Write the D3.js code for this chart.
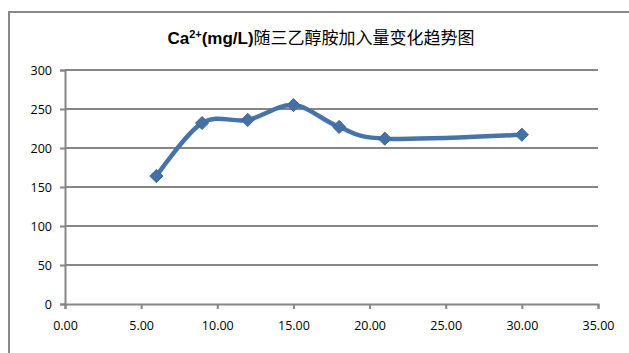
<!DOCTYPE html>
<html><head><meta charset="utf-8">
<script src="https://cdn.jsdelivr.net/npm/d3@7"></script>
<style>body{margin:0;background:#fff;} svg{display:block;}</style>
</head><body>
<div id="chart"></div>
<script>
const xValues = [6, 9, 12, 15, 18, 21, 30];
const caValues = [164, 232, 236, 255, 227, 212, 217];
const xTicks = [0, 5, 10, 15, 20, 25, 30, 35];
const yTicks = [0, 50, 100, 150, 200, 250, 300];
const titleMain = "Ca";
const titleSup = "2+";
const titleUnit = "(mg/L)";
const titleRest = "随三乙醇胺加入量变化趋势图";

const W = 629, H = 353;
const svg = d3.select("#chart").append("svg").attr("width", W).attr("height", H);

// outer border
svg.append("path").attr("d", "M9,353 L9,12 L629,12")
  .attr("fill", "none").attr("stroke", "#888").attr("stroke-width", 2);

const x = d3.scaleLinear().domain([0, 35]).range([65, 598]);
const y = d3.scaleLinear().domain([0, 300]).range([304, 70]);
const grid = "#868686";

// gridlines
svg.append("g").selectAll("line").data(yTicks.filter(d => d > 0)).join("line")
  .attr("x1", x(0)).attr("x2", x(35)).attr("y1", d => y(d)).attr("y2", d => y(d))
  .attr("stroke", grid).attr("stroke-width", 2);

const font = "'Open Sans', 'Liberation Sans', Arial, sans-serif";
// y axis
const yAxis = svg.append("g").attr("transform", `translate(${x(0)},0)`)
  .call(d3.axisLeft(y).tickValues(yTicks).tickSize(5).tickPadding(8));
yAxis.select(".domain").attr("stroke", grid).attr("stroke-width", 2);
yAxis.selectAll(".tick line").attr("stroke", grid).attr("stroke-width", 2);
yAxis.selectAll("text").attr("font-family", font).attr("font-size", 12.5).attr("fill", "#000");

// x axis
const xAxis = svg.append("g").attr("transform", `translate(0,${y(0)})`)
  .call(d3.axisBottom(x).tickValues(xTicks).tickFormat(d3.format(".2f")).tickSize(5).tickPadding(12));
xAxis.select(".domain").attr("stroke", grid).attr("stroke-width", 2);
xAxis.selectAll(".tick line").attr("stroke", grid).attr("stroke-width", 2);
xAxis.selectAll("text").attr("font-family", font).attr("font-size", 12.5).attr("fill", "#000");

// line
const pts = xValues.map((v, i) => [v, caValues[i]]);
const line = d3.line().x(d => x(d[0])).y(d => y(d[1])).curve(d3.curveCardinal.tension(0));
svg.append("path").attr("d", line(pts)).attr("fill", "none")
  .attr("stroke", "#4674A9").attr("stroke-width", 4.5).attr("stroke-linejoin", "round");

svg.append("g").selectAll("path").data(pts).join("path")
  .attr("d", d3.symbol().type(d3.symbolDiamond2).size(110))
  .attr("transform", d => `translate(${x(d[0])},${y(d[1])})`)
  .attr("fill", "#4470A4").attr("stroke", "#3D679A").attr("stroke-width", 1);

// title
const t = svg.append("text").attr("x", 321).attr("y", 44).attr("text-anchor", "middle")
  .attr("font-size", 17).attr("fill", "#000");
t.append("tspan").attr("font-family", "'Liberation Sans', Arial, sans-serif").attr("font-weight", "bold").text(titleMain);
t.append("tspan").attr("font-family", "'Liberation Sans', Arial, sans-serif").attr("font-weight", "bold").attr("font-size", 11).attr("dy", -6).text(titleSup);
t.append("tspan").attr("font-family", "'Liberation Sans', Arial, sans-serif").attr("font-weight", "bold").attr("dy", 6).text(titleUnit);
t.append("tspan").attr("font-family", "'Noto Sans CJK SC', sans-serif").text(titleRest);
</script>
</body></html>
